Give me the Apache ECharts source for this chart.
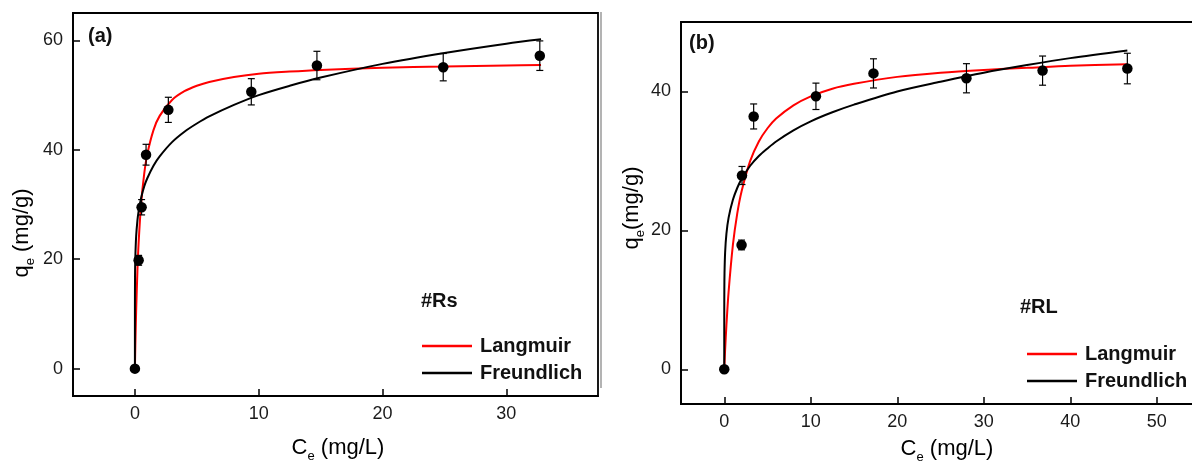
<!DOCTYPE html>
<html>
<head>
<meta charset="utf-8">
<script src="https://cdn.jsdelivr.net/npm/echarts@6/dist/echarts.min.js"></script>
<style>
html,body{margin:0;padding:0;background:#fff;}
#c{width:1192px;height:462px;}
</style>
</head>
<body>
<div id="c"></div>
<script>
// ---- Panel (a) #Rs ----
const cA   = [0, 0.3, 0.54, 0.9, 2.7, 9.4, 14.7, 24.9, 32.7];
const qA   = [0, 19.8, 29.5, 39.1, 47.3, 50.6, 55.4, 55.1, 57.2];
const errA = [0, 0.9, 1.4, 1.9, 2.3, 2.4, 2.6, 2.5, 2.7];
const langCA = [0, 0.02, 0.05, 0.1, 0.2, 0.3, 0.5, 0.75, 1, 1.5, 2, 3, 4, 5, 6, 8, 10, 12.5, 15, 20, 25, 30, 32.8];
const langA  = [0, 2.5, 5.8, 10.5, 17.7, 23.0, 30.1, 35.6, 39.2, 43.6, 46.2, 49.1, 50.7, 51.7, 52.4, 53.3, 53.9, 54.3, 54.6, 55.0, 55.2, 55.4, 55.5];
const freCA  = [0, 0.001, 0.01, 0.03, 0.1, 0.2, 0.3, 0.5, 0.75, 1, 1.5, 2, 3, 4, 5, 6, 8, 10, 12.5, 15, 20, 25, 30, 32.8];
const freA   = [0, 11.8, 16.9, 20.1, 24.2, 27.0, 28.8, 31.2, 33.3, 34.8, 37.1, 38.8, 41.4, 43.3, 44.8, 46.1, 48.2, 50.0, 51.7, 53.2, 55.7, 57.7, 59.4, 60.2];
const xTicksA = [0, 10, 20, 30];
const yTicksA = [0, 20, 40, 60];

// ---- Panel (b) #RL ----
const cB   = [0, 2.0, 2.05, 3.4, 10.6, 17.25, 28.0, 36.8, 46.6];
const qB   = [0, 17.9, 27.9, 36.4, 39.3, 42.6, 41.9, 43.0, 43.3];
const errB = [0, 0.7, 1.3, 1.8, 1.9, 2.1, 2.1, 2.1, 2.2];
const langCB = [0, 0.1, 0.25, 0.5, 1, 1.5, 2, 3, 4, 5, 6, 8, 10, 12.5, 15, 20, 25, 30, 35, 40, 46.6];
const langB  = [0, 2.8, 6.3, 11.1, 17.9, 22.4, 25.6, 30.0, 32.8, 34.7, 36.1, 38.0, 39.3, 40.4, 41.1, 42.1, 42.7, 43.1, 43.4, 43.7, 43.9];
const freCB  = [0, 0.001, 0.01, 0.03, 0.1, 0.25, 0.5, 1, 1.5, 2, 3, 4, 5, 6, 8, 10, 12.5, 15, 20, 25, 30, 35, 40, 46.6];
const freB   = [0, 7.9, 11.5, 13.8, 16.8, 19.5, 21.8, 24.4, 26.1, 27.4, 29.3, 30.7, 31.8, 32.8, 34.4, 35.7, 37.0, 38.1, 40.0, 41.4, 42.7, 43.8, 44.8, 45.9];
const xTicksB = [0, 10, 20, 30, 40, 50];
const yTicksB = [0, 20, 40];

const seriesNames = ['Langmuir', 'Freundlich'];
const panelTags = ['(a)', '(b)'];
const sampleTags = ['#Rs', '#RL'];

const FONT = '"Liberation Sans", Arial, Helvetica, sans-serif';
const TXT = '#1a1a1a';

function zip(xs, ys) { return xs.map((x, i) => [x, ys[i]]); }
function errData(xs, ys, es) {
  return xs.map((x, i) => [x, ys[i] - es[i], ys[i] + es[i], es[i]]);
}
function errRender(params, api) {
  if (api.value(3) <= 0) return null;
  const x = api.value(0);
  const p1 = api.coord([x, api.value(2)]);
  const p2 = api.coord([x, api.value(1)]);
  const w = 3.5;
  const st = { stroke: '#000', lineWidth: 1.2 };
  return { type: 'group', children: [
    { type: 'line', shape: { x1: p1[0], y1: p1[1], x2: p2[0], y2: p2[1] }, style: st },
    { type: 'line', shape: { x1: p1[0] - w, y1: p1[1], x2: p1[0] + w, y2: p1[1] }, style: st },
    { type: 'line', shape: { x1: p2[0] - w, y1: p2[1], x2: p2[0] + w, y2: p2[1] }, style: st }
  ]};
}

function xAxis(idx, min, max, ticks) {
  return {
    type: 'value', gridIndex: idx, min: min, max: max,
    axisLine: { show: true, onZero: false, lineStyle: { color: '#000', width: 1.8 } },
    axisTick: { show: true, inside: true, length: 7, customValues: ticks, lineStyle: { color: '#000', width: 1.5 } },
    axisLabel: { show: true, customValues: ticks, margin: 9, fontSize: 18, fontFamily: FONT, color: TXT },
    splitLine: { show: false }
  };
}
function yAxis(idx, min, max, ticks) {
  return {
    type: 'value', gridIndex: idx, min: min, max: max,
    axisLine: { show: true, onZero: false, lineStyle: { color: '#000', width: 1.8 } },
    axisTick: { show: true, inside: true, length: 7, customValues: ticks, lineStyle: { color: '#000', width: 1.5 } },
    axisLabel: { show: true, customValues: ticks, margin: 10, fontSize: 18, fontFamily: FONT, color: TXT },
    splitLine: { show: false }
  };
}

const richName = {
  a: { fontSize: 22, fontFamily: FONT, color: TXT, lineHeight: 22, verticalAlign: 'top' },
  s: { fontSize: 13, fontFamily: FONT, color: TXT, lineHeight: 13, padding: [13, 0, 0, 0], verticalAlign: 'top' }
};
function nameText(x, y, txt, rot) {
  return { type: 'text', x: x, y: y, rotation: rot || 0,
    style: { text: txt, rich: richName, align: 'center', verticalAlign: 'middle' } };
}
function boldText(x, y, txt) {
  return { type: 'text', x: x, y: y,
    style: { text: txt, font: 'bold 20px ' + FONT, fill: '#111', align: 'left', verticalAlign: 'middle' } };
}

function legend(left, top) {
  return {
    orient: 'vertical', left: left, top: top, data: seriesNames,
    icon: 'rect', itemWidth: 50, itemHeight: 2.5, itemGap: 7,
    selectedMode: false,
    textStyle: { fontSize: 20, fontWeight: 'bold', fontFamily: FONT, color: '#111', padding: [0, 0, 0, 3] }
  };
}

const option = {
  animation: false,
  backgroundColor: '#fff',
  grid: [
    { left: 73, top: 13, width: 525, height: 383, show: true, borderColor: '#000', borderWidth: 1.8, backgroundColor: 'transparent', containLabel: false, outerBoundsMode: 'none' },
    { left: 681, top: 22, right: -8, height: 382, show: true, borderColor: '#000', borderWidth: 1.8, backgroundColor: 'transparent', containLabel: false, outerBoundsMode: 'none' }
  ],
  xAxis: [ xAxis(0, -5, 37.4, xTicksA), xAxis(1, -5, 55, xTicksB) ],
  yAxis: [ yAxis(0, -5, 65, yTicksA), yAxis(1, -5, 50, yTicksB) ],
  legend: [ legend(417, 331), legend(1022, 339) ],
  series: [
    { name: seriesNames[0], type: 'line', xAxisIndex: 0, yAxisIndex: 0, data: zip(langCA, langA), showSymbol: false, symbol: 'none', smooth: 0.3, lineStyle: { color: '#ff0000', width: 2 }, itemStyle: { color: '#ff0000' }, z: 2 },
    { name: seriesNames[1], type: 'line', xAxisIndex: 0, yAxisIndex: 0, data: zip(freCA, freA), showSymbol: false, symbol: 'none', smooth: 0.3, lineStyle: { color: '#000', width: 2 }, itemStyle: { color: '#000' }, z: 2 },
    { name: 'errA', type: 'custom', xAxisIndex: 0, yAxisIndex: 0, data: errData(cA, qA, errA), renderItem: errRender, encode: { x: 0, y: [1, 2] }, z: 3 },
    { name: 'dataA', type: 'scatter', xAxisIndex: 0, yAxisIndex: 0, data: zip(cA, qA), symbol: 'circle', symbolSize: 10.5, itemStyle: { color: '#000', opacity: 1 }, z: 4 },

    { name: seriesNames[0], type: 'line', xAxisIndex: 1, yAxisIndex: 1, data: zip(langCB, langB), showSymbol: false, symbol: 'none', smooth: 0.3, lineStyle: { color: '#ff0000', width: 2 }, itemStyle: { color: '#ff0000' }, z: 2 },
    { name: seriesNames[1], type: 'line', xAxisIndex: 1, yAxisIndex: 1, data: zip(freCB, freB), showSymbol: false, symbol: 'none', smooth: 0.3, lineStyle: { color: '#000', width: 2 }, itemStyle: { color: '#000' }, z: 2 },
    { name: 'errB', type: 'custom', xAxisIndex: 1, yAxisIndex: 1, data: errData(cB, qB, errB), renderItem: errRender, encode: { x: 0, y: [1, 2] }, z: 3 },
    { name: 'dataB', type: 'scatter', xAxisIndex: 1, yAxisIndex: 1, data: zip(cB, qB), symbol: 'circle', symbolSize: 10.5, itemStyle: { color: '#000', opacity: 1 }, z: 4 }
  ],
  graphic: [
    { type: 'line', shape: { x1: 601, y1: 12, x2: 601, y2: 388 }, style: { stroke: '#9a9a9a', lineWidth: 1.5 } },
    nameText(338, 448, '{a|C}{s|e}{a| (mg/L)}'),
    nameText(947, 449, '{a|C}{s|e}{a| (mg/L)}'),
    nameText(22, 233, '{a|q}{s|e}{a| (mg/g)}', Math.PI / 2),
    nameText(632, 208, '{a|q}{s|e}{a|(mg/g)}', Math.PI / 2),
    boldText(88, 36, panelTags[0]),
    boldText(689, 43, panelTags[1]),
    boldText(421, 301, sampleTags[0]),
    boldText(1020, 307, sampleTags[1])
  ]
};

const chart = echarts.init(document.getElementById('c'), null, { renderer: 'canvas' });
chart.setOption(option);
</script>
</body>
</html>
